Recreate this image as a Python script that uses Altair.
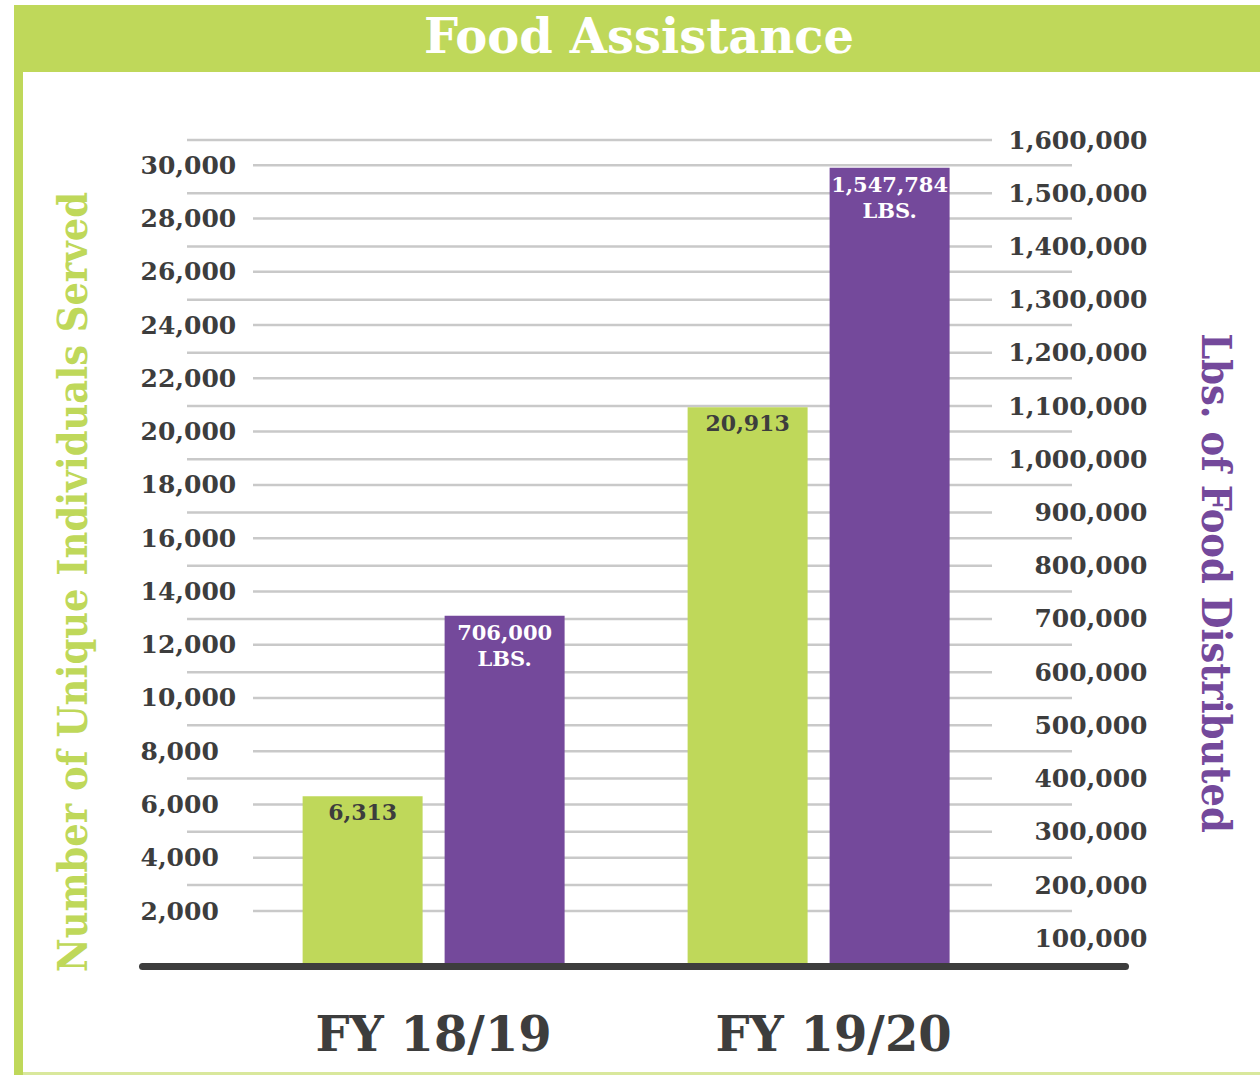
import altair as alt
import pandas as pd

# ---- data ----
years = ["FY 18/19", "FY 19/20"]
series = ["Individuals", "Lbs"]
individuals = [6313, 20913]
pounds = [706000, 1547784]
individual_labels = ["6,313", "20,913"]
pound_labels = ["706,000\nLBS.", "1,547,784\nLBS."]
left_ticks = list(range(2000, 30001, 2000))
right_ticks = list(range(100000, 1600001, 100000))
right_grid_values = list(range(200000, 1600001, 100000))
chart_title = "Food Assistance"
left_title = "Number of Unique Individuals Served"
right_title = "Lbs. of Food Distributed"

# ---- style ----
GREEN = "#BFD85A"
PURPLE = "#74499B"
DARK = "#3D3D3D"
GRID = "#C9C9C9"
FONT = "DejaVu Serif"
TITLE_FONT = "DejaVu Serif Condensed, DejaVu Serif"
W, H = 990, 836
PL, PT = 139, 130

df_ind = pd.DataFrame({"year": years, "series": series[0], "value": individuals, "label": individual_labels})
df_lbs = pd.DataFrame({"year": years, "series": series[1], "value": pounds, "label": pound_labels})
df_lt = pd.DataFrame({"v": left_ticks})
df_rg = pd.DataFrame({"v": right_grid_values})
one = pd.DataFrame({"a": [0]})

xscale = alt.Scale(domain=years, paddingInner=0.3195, paddingOuter=0.4455, align=0.477)
oscale = alt.Scale(domain=series, paddingInner=0.155, paddingOuter=0)
yl = alt.Scale(domain=[-65, 31325], nice=False, zero=False)
yr = alt.Scale(domain=[47790, 1618810], nice=False, zero=False, clamp=True)

xaxis = alt.Axis(title=None, domain=False, ticks=False, tickSize=0, grid=False,
                 labelFont=FONT, labelFontSize=48, labelFontWeight="bold", labelColor=DARK,
                 labelPadding=84, labelBaseline="alphabetic", labelAngle=0, labelLimit=500,
                 labelOffset={"condition": {"test": "datum.value === 'FY 19/20'", "value": 15}, "value": 0})
X = alt.X("year:N", scale=xscale, axis=xaxis, sort=years)
XO = alt.XOffset("series:N", scale=oscale)

laxis = alt.Axis(orient="left", values=left_ticks, format=",d", domain=False, ticks=False, tickSize=0,
                 grid=False, labelFont=FONT, labelFontSize=25, labelFontWeight="bold", labelColor=DARK,
                 labelAlign="left", labelPadding=-1, labelBaseline="middle", labelOverlap=False,
                 title=left_title, titleFont=TITLE_FONT, titleFontSize=41, titleFontWeight="bold",
                 titleColor=GREEN, titleAngle=270, titleX=-53, titleY=451.5, titleAlign="center",
                 titleBaseline="alphabetic", titleLimit=1000)
raxis = alt.Axis(orient="right", values=right_ticks, format=",d", domain=False, ticks=False, tickSize=0,
                 grid=False, labelFont=FONT, labelFontSize=25, labelFontWeight="bold", labelColor=DARK,
                 labelAlign="right", labelPadding=18, labelBaseline="middle", labelOverlap=False,
                 title=right_title, titleFont=TITLE_FONT, titleFontSize=41, titleFontWeight="bold",
                 titleColor=PURPLE, titleAngle=90, titleX=72, titleY=452.5, titleAlign="center",
                 titleBaseline="alphabetic", titleLimit=1000)

# decorations
header = alt.Chart(one).mark_rect(color=GREEN).encode(
    x=alt.value(14 - PL), x2=alt.value(1260 - PL), y=alt.value(5 - PT), y2=alt.value(72 - PT))
strip = alt.Chart(one).mark_rect(color=GREEN).encode(
    x=alt.value(14 - PL), x2=alt.value(23 - PL), y=alt.value(5 - PT), y2=alt.value(1075 - PT))
bottom = alt.Chart(one).mark_rect(color=GREEN, opacity=0.6).encode(
    x=alt.value(14 - PL), x2=alt.value(1260 - PL), y=alt.value(1072 - PT), y2=alt.value(1075 - PT))
title = alt.Chart(one).mark_text(text=chart_title, font=FONT, fontSize=48, fontWeight="bold",
                                 color="white", align="center", baseline="alphabetic").encode(
    x=alt.value(639 - PL), y=alt.value(53 - PT))

left_grid = alt.Chart(df_lt).mark_rule(color=GRID, strokeWidth=2.5).encode(
    y=alt.Y("v:Q", scale=yl, axis=None), x=alt.value(253 - PL), x2=alt.value(1072 - PL))
right_grid = alt.Chart(df_rg).mark_rule(color=GRID, strokeWidth=2.5).encode(
    y=alt.Y("v:Q", scale=yr, axis=None), x=alt.value(187 - PL), x2=alt.value(992 - PL))

green_bars = alt.Chart(df_ind).mark_bar(color=GREEN).encode(
    x=X, xOffset=XO, y=alt.Y("value:Q", scale=yl, axis=laxis))
purple_bars = alt.Chart(df_lbs).mark_bar(color=PURPLE).encode(
    x=X, xOffset=XO, y=alt.Y("value:Q", scale=yr, axis=raxis))

baseline = alt.Chart(one).mark_rule(color=DARK, strokeWidth=7, strokeCap="round").encode(
    x=alt.value(3.5), x2=alt.value(W - 3.5), y=alt.value(H + 0.5))

green_text = alt.Chart(df_ind).mark_text(font=FONT, fontSize=22, fontWeight="bold", color=DARK,
                                         baseline="top", dy=7).encode(
    x=X, xOffset=XO, y=alt.Y("value:Q", scale=yl, axis=None), text="label:N")
purple_text = alt.Chart(df_lbs).mark_text(font=FONT, fontSize=21, fontWeight="bold", color="white",
                                          baseline="top", dy=7, lineBreak="\n", lineHeight=26).encode(
    x=X, xOffset=XO, y=alt.Y("value:Q", scale=yr, axis=None), text="label:N")

chart = alt.layer(
    header, strip, bottom, title, left_grid, right_grid, green_bars, purple_bars,
    baseline, green_text, purple_text
).resolve_scale(y="independent").properties(
    width=W, height=H,
    autosize=alt.AutoSizeParams(type="none"),
    padding={"left": PL, "top": PT, "right": 1260 - PL - W, "bottom": 1075 - PT - H},
    background="white",
).configure_view(stroke=None)

chart.save("out.html", embed_options={"renderer": "svg", "actions": False})
